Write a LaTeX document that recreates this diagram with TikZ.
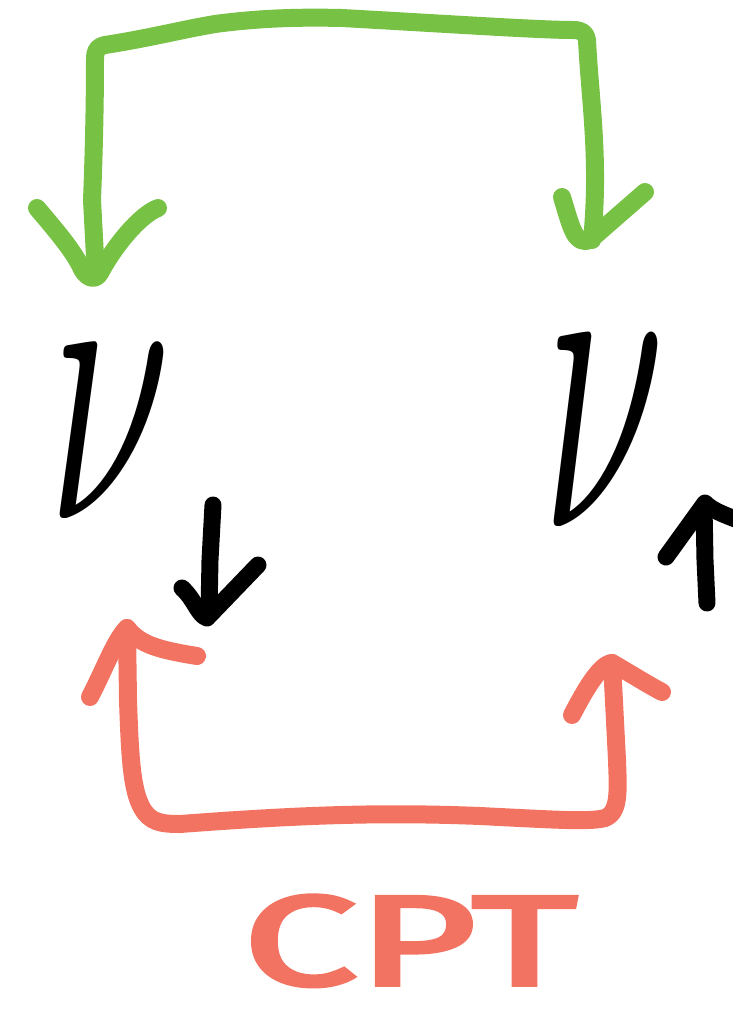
\documentclass[tikz,border=0pt]{standalone}
\usepackage{fontspec}
\usepackage{graphicx}
\newfontfamily\cptfont[FakeBold=3]{Fira Sans}
\definecolor{pengreen}{HTML}{77C144}
\definecolor{penred}{HTML}{F37363}
\begin{document}
\begin{tikzpicture}[x=1pt,y=-1pt,
  pen/.style={line width=18pt,line cap=round,line join=round},
  gpen/.style={pen,draw=pengreen},
  rpen/.style={pen,draw=penred},
  kpen/.style={pen,draw=black,line width=17pt},
  nu/.style={inner sep=0pt}]
\useasboundingbox (0,0) rectangle (733,1018);
% neutrinos
\node[nu] (nuL) at (110,432) {\scalebox{22}[40]{$\nu$}};
\node[nu] (nuR) at (604,432) {\scalebox{22}[44]{$\nu$}};
% spin arrows
\draw[kpen] (213,505) -- (210,560) -- (209,612);
\draw[kpen] (182,588) .. controls (195,600) and (198,615) .. (207,618) -- (258,565);
\draw[kpen] (707,603) -- (705,560) -- (704,507);
\draw[kpen] (666,557) -- (705,503) .. controls (712,510) and (722,514) .. (738,520);
% green double arrow
\coordinate (gL) at (96,276);
\coordinate (gR) at (592,240);
\draw[gpen] (gL) -- (92,200) .. controls (94,150) and (95,100) .. (95,60) .. controls (95,50) and (97,47) .. (105,45)
  .. controls (150,38) and (180,30) .. (215,24) .. controls (260,18) and (300,17) .. (342,18)
  .. controls (450,24) and (540,30) .. (573,30) .. controls (582,30) and (586,33) .. (587,40)
  .. controls (590,100) and (600,160) .. (gR);
\draw[gpen] (37,208) .. controls (60,235) and (72,250) .. (80,265) .. controls (85,278) and (95,282) .. (100,273)
  .. controls (115,245) and (140,215) .. (158,208);
\draw[gpen] (562,197) .. controls (572,230) and (575,245) .. (590,240) -- (645,192);
% red double arrow
\coordinate (rL) at (127,628);
\coordinate (rR) at (612,663);
\draw[rpen] (rL) -- (128,700) .. controls (130,760) and (132,790) .. (142,808)
  .. controls (150,822) and (160,824) .. (180,824)
  .. controls (300,815) and (380,812) .. (480,816) .. controls (560,820) and (590,822) .. (605,818)
  .. controls (620,812) and (618,790) .. (617,760) -- (rR);
\draw[rpen] (90,697) .. controls (105,668) and (115,640) .. (127,628) .. controls (140,645) and (160,650) .. (197,656);
\draw[rpen] (572,715) .. controls (585,690) and (600,664) .. (612,663) .. controls (628,672) and (645,683) .. (662,692);
% CPT
\node[text=penred,inner sep=0pt,text depth=0pt,anchor=base,xscale=1.6,font=\cptfont\fontsize{128}{128}\selectfont] (cpt) at (410,985) {CPT};
\end{tikzpicture}
\end{document}
